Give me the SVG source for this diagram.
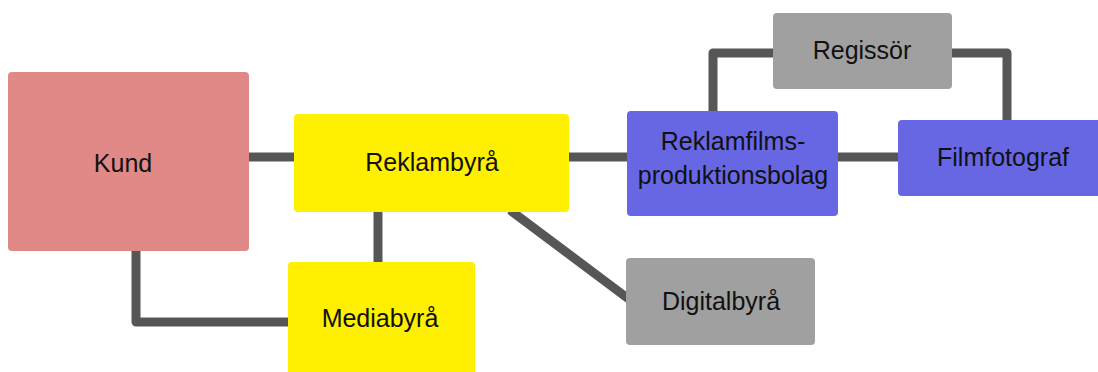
<svg xmlns="http://www.w3.org/2000/svg" width="1098" height="372" viewBox="0 0 1098 372">
<style>
.c{fill:none;stroke:#565656;stroke-width:9;stroke-linejoin:round}
.t{font-family:"Liberation Sans",Arial,sans-serif;font-size:25px;fill:#111;text-anchor:middle}
.pink{fill:#E08987}
.yel{fill:#FFEF00}
.blue{fill:#6766E3}
.gray{fill:#A0A0A0}
</style>
<rect width="1098" height="372" fill="#fff"/>
<g id="connectors">
<path class="c" d="M249 157H294"/>
<path class="c" d="M569 157H627"/>
<path class="c" d="M838 157H898"/>
<path class="c" d="M378 212V262"/>
<path class="c" d="M136 251V322H288"/>
<path class="c" d="M510 210L630 300"/>
<path class="c" d="M713 111V53H773"/>
<path class="c" d="M952 53H1007V120"/>
</g>
<g id="kund"><rect class="pink" x="8" y="72" width="241" height="179" rx="4"/><text class="t" x="123" y="172">Kund</text></g>
<g id="reklambyra"><rect class="yel" x="294" y="114" width="275" height="98" rx="4"/><text class="t" x="432" y="171">Reklambyrå</text></g>
<g id="mediabyra"><rect class="yel" x="288" y="262" width="187" height="120" rx="4"/><text class="t" x="380" y="327">Mediabyrå</text></g>
<g id="digitalbyra"><rect class="gray" x="626" y="258" width="189" height="87" rx="4"/><text class="t" x="721" y="310">Digitalbyrå</text></g>
<g id="reklamfilm"><rect class="blue" x="627" y="111" width="211" height="105" rx="4"/><text class="t" x="733" y="150">Reklamfilms-</text><text class="t" x="733" y="184">produktionsbolag</text></g>
<g id="regissor"><rect class="gray" x="773" y="13" width="179" height="76" rx="4"/><text class="t" x="862" y="59">Regissör</text></g>
<g id="filmfotograf"><rect class="blue" x="898" y="120" width="210" height="76" rx="4"/><text class="t" x="1003" y="166">Filmfotograf</text></g>
</svg>
